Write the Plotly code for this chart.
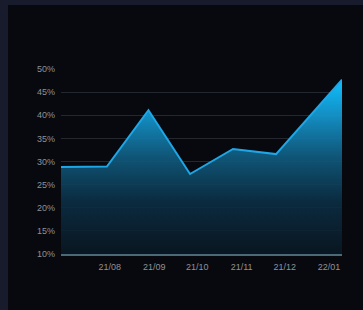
import plotly.graph_objects as go

# Data
dates = ["2021-06-28", "2021-07-30", "2021-08-28", "2021-09-26",
         "2021-10-26", "2021-11-25", "2022-01-10"]
values = [28.8, 28.9, 41.1, 27.3, 32.7, 31.6, 47.7]
y_ticks = [10, 15, 20, 25, 30, 35, 40, 45, 50]
x_ticks = ["2021-08-01", "2021-09-01", "2021-10-01", "2021-11-01",
           "2021-12-01", "2022-01-01"]

W, H = 363, 310
ML, MR, MT, MB = 61, 21, 69, 56
pw, ph = W - ML - MR, H - MT - MB

def px2paper_x(px):
    return (px - ML) / pw

def px2paper_y(py):
    return (H - MB - py) / ph

fig = go.Figure()
fig.add_trace(go.Scatter(
    x=dates, y=values, mode="lines",
    line=dict(color="#1fa6e6", width=2),
    fill="tozeroy",
    fillgradient=dict(
        type="vertical",
        start=min(y_ticks), stop=max(values),
        colorscale=[
            [0.0, "rgba(10,24,36,0.85)"],
            [0.3, "rgba(11,47,70,0.88)"],
            [0.55, "rgba(16,92,128,0.9)"],
            [0.8, "rgba(20,150,206,0.95)"],
            [1.0, "rgba(14,192,255,1)"],
        ],
    ),
    hoverinfo="skip",
))

# card background
fig.add_shape(type="rect", xref="paper", yref="paper",
              x0=px2paper_x(8), x1=px2paper_x(W + 10),
              y0=px2paper_y(H + 10), y1=px2paper_y(5),
              fillcolor="#08090e", line=dict(width=0), layer="below")

fig.update_layout(
    width=W, height=H,
    margin=dict(l=ML, r=MR, t=MT, b=MB),
    paper_bgcolor="#181b2c",
    plot_bgcolor="rgba(0,0,0,0)",
    showlegend=False,
    font=dict(family="Liberation Sans, Arial, sans-serif", size=9, color="#8e9199"),
)
fig.update_xaxes(
    range=[dates[0], dates[-1]],
    tickvals=x_ticks, tickformat="%y/%m",
    showgrid=False, zeroline=False,
    showline=True, linecolor="#4a6a78", linewidth=2,
    ticks="", ticklabelstandoff=3,
    tickfont=dict(size=9, color="#8e9199"),
)
fig.update_yaxes(
    range=[10, 50], tickvals=y_ticks,
    ticktext=[f"{v}%" for v in y_ticks],
    showgrid=True, gridcolor="#25272f", gridwidth=1,
    zeroline=False, ticks="", ticklabelstandoff=5,
    tickfont=dict(size=9, color="#8e9199"),
)

fig.write_html(
    "out.html",
    config={"displayModeBar": False},
    post_script="document.body.style.margin='0';document.body.style.background='#181b2c';",
)
